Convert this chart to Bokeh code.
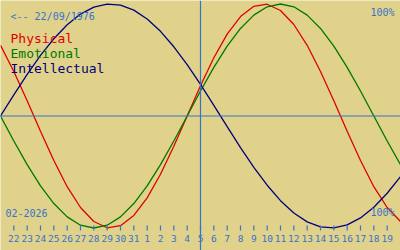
from bokeh.plotting import figure
from bokeh.models import Label, Span, Range1d
from bokeh.embed import file_html
from bokeh.resources import INLINE
from bokeh.core.properties import value

# ---- data ----
t_days = list(range(0, 31))           # 0 = 21 Jan 2026 ... 30 = 20 Feb 2026
tick_pos = list(range(1, 30))
tick_labels = ["22", "23", "24", "25", "26", "27", "28", "29", "30", "31",
               "1", "2", "3", "4", "5", "6", "7", "8", "9", "10",
               "11", "12", "13", "14", "15", "16", "17", "18", "19"]
physical = [0.631, 0.398, 0.136, -0.136, -0.398, -0.631, -0.817, -0.942, -0.998, -0.979,
            -0.888, -0.731, -0.520, -0.270, 0.0, 0.270, 0.520, 0.731, 0.888, 0.979,
            0.998, 0.942, 0.817, 0.631, 0.398, 0.136, -0.136, -0.398, -0.631, -0.817, -0.942]
emotional = [0.0, -0.223, -0.434, -0.624, -0.782, -0.901, -0.975, -1.0, -0.975, -0.901,
             -0.782, -0.624, -0.434, -0.223, 0.0, 0.223, 0.434, 0.624, 0.782, 0.901,
             0.975, 1.0, 0.975, 0.901, 0.782, 0.624, 0.434, 0.223, 0.0, -0.223, -0.434]
intellectual = [0.0, 0.189, 0.372, 0.541, 0.690, 0.815, 0.910, 0.972, 0.999, 0.990,
                0.945, 0.866, 0.756, 0.618, 0.458, 0.282, 0.095, -0.095, -0.282, -0.458,
                -0.618, -0.756, -0.866, -0.945, -0.990, -0.999, -0.972, -0.910, -0.815, -0.690, -0.541]
today_pos = 15
series_names = ["Physical", "Emotional", "Intellectual"]
birth_text = "<-- 22/09/1976"
month_text = "02-2026"
pct_text = "100%"

# ---- style ----
BG = "#e0d28a"
BLUE = "#3672cc"
COLORS = ["#e00000", "#007800", "#000080"]
FONT = value("DejaVu Sans Mono")

W, H = 400, 250
ZERO_PX = 115.5
AMP_PX = 112.0


def v_of(py):
    return (ZERO_PX - py) / AMP_PX


p = figure(width=W, height=H, x_range=Range1d(0, 30), y_range=Range1d(v_of(H), v_of(0)),
           output_backend="svg", toolbar_location=None, min_border=0,
           x_axis_type=None, y_axis_type=None)
p.grid.visible = False
p.outline_line_color = None
p.background_fill_color = BG
p.border_fill_color = BG

p.add_layout(Span(location=0, dimension="width", line_color=BLUE, line_width=1.2))
p.add_layout(Span(location=today_pos, dimension="height", line_color=BLUE, line_width=1.2))

for ys, c in zip([physical, emotional, intellectual], COLORS):
    p.line(t_days, ys, line_color=c, line_width=1.3)

p.segment(x0=tick_pos, y0=v_of(225), x1=tick_pos, y1=v_of(230), line_color=BLUE, line_width=1.2)
p.text(x=tick_pos, y=v_of(238), text=tick_labels, text_align="center", text_baseline="middle",
       text_font=FONT, text_font_size="9.5px", text_color=BLUE)

p.add_layout(Label(x=10, y=H - 16, x_units="screen", y_units="screen", text=birth_text,
                   text_font="DejaVu Sans Mono", text_font_size="10px", text_color=BLUE,
                   text_baseline="middle"))
p.add_layout(Label(x=394, y=H - 12, x_units="screen", y_units="screen", text=pct_text,
                   text_font="DejaVu Sans Mono", text_font_size="10px", text_color=BLUE,
                   text_baseline="middle", text_align="right"))
p.add_layout(Label(x=394, y=H - 212, x_units="screen", y_units="screen", text=pct_text,
                   text_font="DejaVu Sans Mono", text_font_size="10px", text_color=BLUE,
                   text_baseline="middle", text_align="right"))
p.add_layout(Label(x=5, y=H - 212, x_units="screen", y_units="screen", text=month_text,
                   text_font="DejaVu Sans Mono", text_font_size="10px", text_color=BLUE,
                   text_baseline="middle"))
for i, (name, c) in enumerate(zip(series_names, COLORS)):
    p.add_layout(Label(x=10, y=H - (38 + 15 * i), x_units="screen", y_units="screen", text=name,
                       text_font="DejaVu Sans Mono", text_font_size="13px", text_color=c,
                       text_baseline="middle"))

open("out.html", "w").write(file_html(p, INLINE))
